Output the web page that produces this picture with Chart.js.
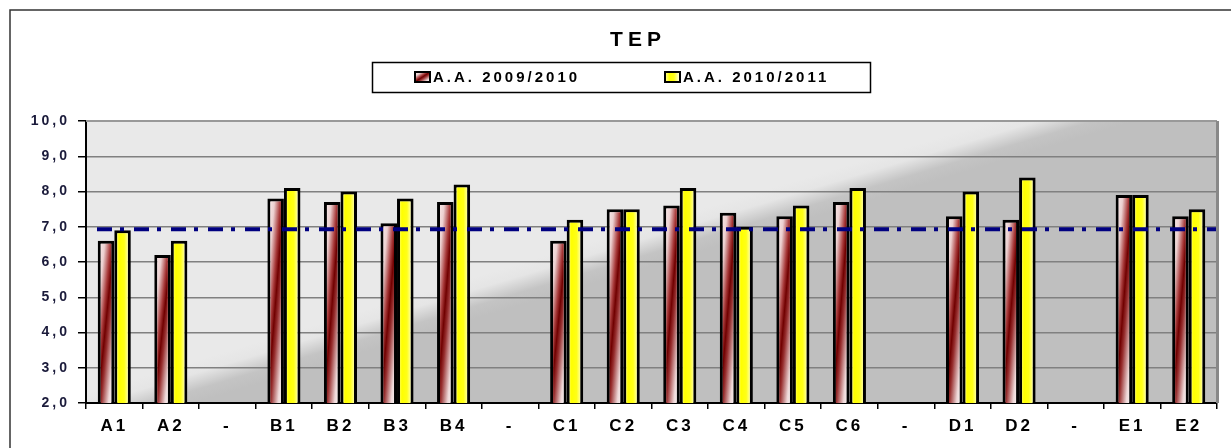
<!DOCTYPE html>
<html>
<head>
<meta charset="utf-8">
<title>TEP</title>
<script src="https://cdn.jsdelivr.net/npm/chart.js@4.4.1/dist/chart.umd.min.js"></script>
<style>
  body { margin: 0; background: #fff; }
  canvas { display: block; }
</style>
</head>
<body>
<canvas id="myChart" width="1231" height="448"></canvas>
<script>
// dati del grafico
const categories = ['A1', 'A2', '-', 'B1', 'B2', 'B3', 'B4', '-', 'C1', 'C2', 'C3', 'C4', 'C5', 'C6', '-', 'D1', 'D2', '-', 'E1', 'E2'];
const seriesNames = ['A.A. 2009/2010', 'A.A. 2010/2011'];
const values0910 = [6.6, 6.2, null, 7.8, 7.7, 7.1, 7.7, null, 6.6, 7.5, 7.6, 7.4, 7.3, 7.7, null, 7.3, 7.2, null, 7.9, 7.3];
const values1011 = [6.9, 6.6, null, 8.1, 8.0, 7.8, 8.2, null, 7.2, 7.5, 8.1, 7.0, 7.6, 8.1, null, 8.0, 8.4, null, 7.9, 7.5];
const refValue = [6.93];
const yTicks = [2, 3, 4, 5, 6, 7, 8, 9, 10];

const CAT_PCT = 0.585;
const FONT = '"Liberation Sans", Arial, sans-serif';
const redStops = [[0, '#fff4f4'], [0.22, '#ecd0d0'], [0.4, '#a83a3a'], [0.5, '#700000'], [0.6, '#983030'], [0.82, '#eed8d8'], [1, '#ffffff']];
const yellowStops = [[0, '#ffffa8'], [0.3, '#ffff00'], [0.6, '#ffff18'], [1, '#ffffff']];

// gradiente diagonale (rosso) dentro un rettangolo
function diagGradient(ctx, x, y, w, h, stops) {
  const n = Math.sqrt(w * w + h * h) || 1;
  const ux = h / n, uy = w / n, k = w * h / n;
  const cx = x + w / 2, cy = y + h / 2;
  const g = ctx.createLinearGradient(cx - k * ux, cy - k * uy, cx + k * ux, cy + k * uy);
  stops.forEach(s => g.addColorStop(s[0], s[1]));
  return g;
}

// gradiente orizzontale (giallo)
function horizGradient(ctx, x, y, w, h, stops) {
  const g = ctx.createLinearGradient(x, 0, x + w, 0);
  stops.forEach(s => g.addColorStop(s[0], s[1]));
  return g;
}

const fills = [
  (ctx, x, y, w, h) => diagGradient(ctx, x, y, w, h, redStops),
  (ctx, x, y, w, h) => horizGradient(ctx, x, y, w, h, yellowStops)
];

function barFill(c) {
  const chart = c.chart;
  const xs = chart.scales.x, ys = chart.scales.y;
  if (c.type !== 'data' || !xs || !ys || !chart.chartArea) return '#ccc';
  const v = c.raw;
  if (v == null) return 'transparent';
  const cat = (xs.right - xs.left) / categories.length;
  const w = cat * CAT_PCT / 2;
  const x0 = xs.getPixelForValue(c.dataIndex) - cat * CAT_PCT / 2 + c.datasetIndex * w;
  const top = ys.getPixelForValue(v), bottom = ys.getPixelForValue(ys.min);
  return fills[c.datasetIndex](chart.ctx, x0, top, w, bottom - top);
}

const decor = {
  id: 'decor',
  beforeLayout(chart) { chart.ctx.letterSpacing = '3px'; },
  beforeDraw(chart) {
    const { ctx, chartArea: a } = chart;
    ctx.letterSpacing = '3px';
    ctx.save();
    // cornice esterna
    ctx.strokeStyle = '#333';
    ctx.lineWidth = 1.5;
    ctx.beginPath();
    ctx.moveTo(10, chart.height);
    ctx.lineTo(10, 10);
    ctx.lineTo(chart.width, 10);
    ctx.stroke();
    // sfondo area grafico
    const px = a.left + (a.right - a.left) * 0.35, py = a.top + (a.bottom - a.top) * 0.62;
    const nx = 0.287, ny = 0.958, d = 20;
    const g = ctx.createLinearGradient(px - d * nx, py - d * ny, px + d * nx, py + d * ny);
    g.addColorStop(0, '#e9e9e9');
    g.addColorStop(0.3, '#e5e5e5');
    g.addColorStop(0.7, '#c4c4c4');
    g.addColorStop(1, '#bfbfbf');
    ctx.fillStyle = g;
    ctx.fillRect(a.left, a.top, a.right - a.left, a.bottom - a.top);
    ctx.restore();
  },
  afterDatasetsDraw(chart) {
    const { ctx, chartArea: a } = chart;
    const y = chart.scales.y.getPixelForValue(refValue[0]);
    ctx.save();
    ctx.strokeStyle = '#000080';
    ctx.lineWidth = 4;
    ctx.setLineDash([15, 8, 4, 10]);
    ctx.beginPath();
    ctx.moveTo(a.left + 11, y);
    ctx.lineTo(a.right, y);
    ctx.stroke();
    ctx.restore();
  },
  afterDraw(chart) {
    const { ctx, chartArea: a } = chart;
    ctx.save();
    // bordo superiore e destro
    ctx.strokeStyle = '#999';
    ctx.lineWidth = 2;
    ctx.beginPath();
    ctx.moveTo(a.left, a.top);
    ctx.lineTo(a.right, a.top);
    ctx.stroke();
    ctx.strokeStyle = '#888';
    ctx.lineWidth = 3;
    ctx.beginPath();
    ctx.moveTo(a.right + 0.5, a.top);
    ctx.lineTo(a.right + 0.5, a.bottom);
    ctx.stroke();

    // titolo
    ctx.fillStyle = '#000';
    ctx.font = 'bold 21px ' + FONT;
    ctx.letterSpacing = '5px';
    ctx.textAlign = 'center';
    ctx.textBaseline = 'middle';
    ctx.fillText('TEP', 638, 40);

    // legenda
    ctx.letterSpacing = '3px';
    ctx.strokeStyle = '#000';
    ctx.lineWidth = 1.5;
    ctx.strokeRect(372.5, 62.5, 498, 30);
    ctx.font = 'bold 15px ' + FONT;
    ctx.textAlign = 'left';
    chart.data.datasets.forEach((ds, i) => {
      const mx = 415 + i * 250, my = 72;
      ctx.fillStyle = fills[i](ctx, mx, my, 15, 10);
      ctx.fillRect(mx, my, 15, 10);
      ctx.lineWidth = 2;
      ctx.strokeRect(mx, my, 15, 10);
      ctx.fillStyle = '#000';
      ctx.fillText(ds.label, mx + 18, 78);
    });
    ctx.restore();
  }
};

new Chart(document.getElementById('myChart'), {
  type: 'bar',
  data: {
    labels: categories,
    datasets: [
      {
        label: seriesNames[0],
        data: values0910,
        backgroundColor: barFill,
        borderColor: '#000',
        borderWidth: 3,
        borderSkipped: false,
        categoryPercentage: CAT_PCT,
        barPercentage: 1
      },
      {
        label: seriesNames[1],
        data: values1011,
        backgroundColor: barFill,
        borderColor: '#000',
        borderWidth: 3,
        borderSkipped: false,
        categoryPercentage: CAT_PCT,
        barPercentage: 1
      }
    ]
  },
  options: {
    responsive: false,
    animation: false,
    layout: { padding: { top: 121, right: 14, bottom: 0, left: 0 } },
    plugins: {
      legend: { display: false },
      title: { display: false },
      tooltip: { enabled: false }
    },
    scales: {
      x: {
        afterFit(scale) { scale.height = 45; },
        grid: { offset: true, drawOnChartArea: false, tickColor: '#000', tickLength: 6, lineWidth: 1.5 },
        border: { color: '#000', width: 2 },
        ticks: {
          color: '#000',
          padding: 7,
          autoSkip: false,
          maxRotation: 0,
          font: { family: FONT, size: 17, weight: 'bold' }
        }
      },
      y: {
        min: yTicks[0],
        max: yTicks[yTicks.length - 1],
        afterFit(scale) { scale.width = 86; },
        afterBuildTicks(scale) { scale.ticks = yTicks.map(v => ({ value: v })); },
        grid: { color: '#808080', lineWidth: 1.5, tickColor: '#000', tickLength: 8 },
        border: { color: '#000', width: 2 },
        ticks: {
          color: '#1a1a3a',
          padding: 8,
          callback: v => v.toFixed(1).replace('.', ','),
          font: { family: FONT, size: 14, weight: 'bold' }
        }
      }
    }
  },
  plugins: [decor]
});
</script>
</body>
</html>
